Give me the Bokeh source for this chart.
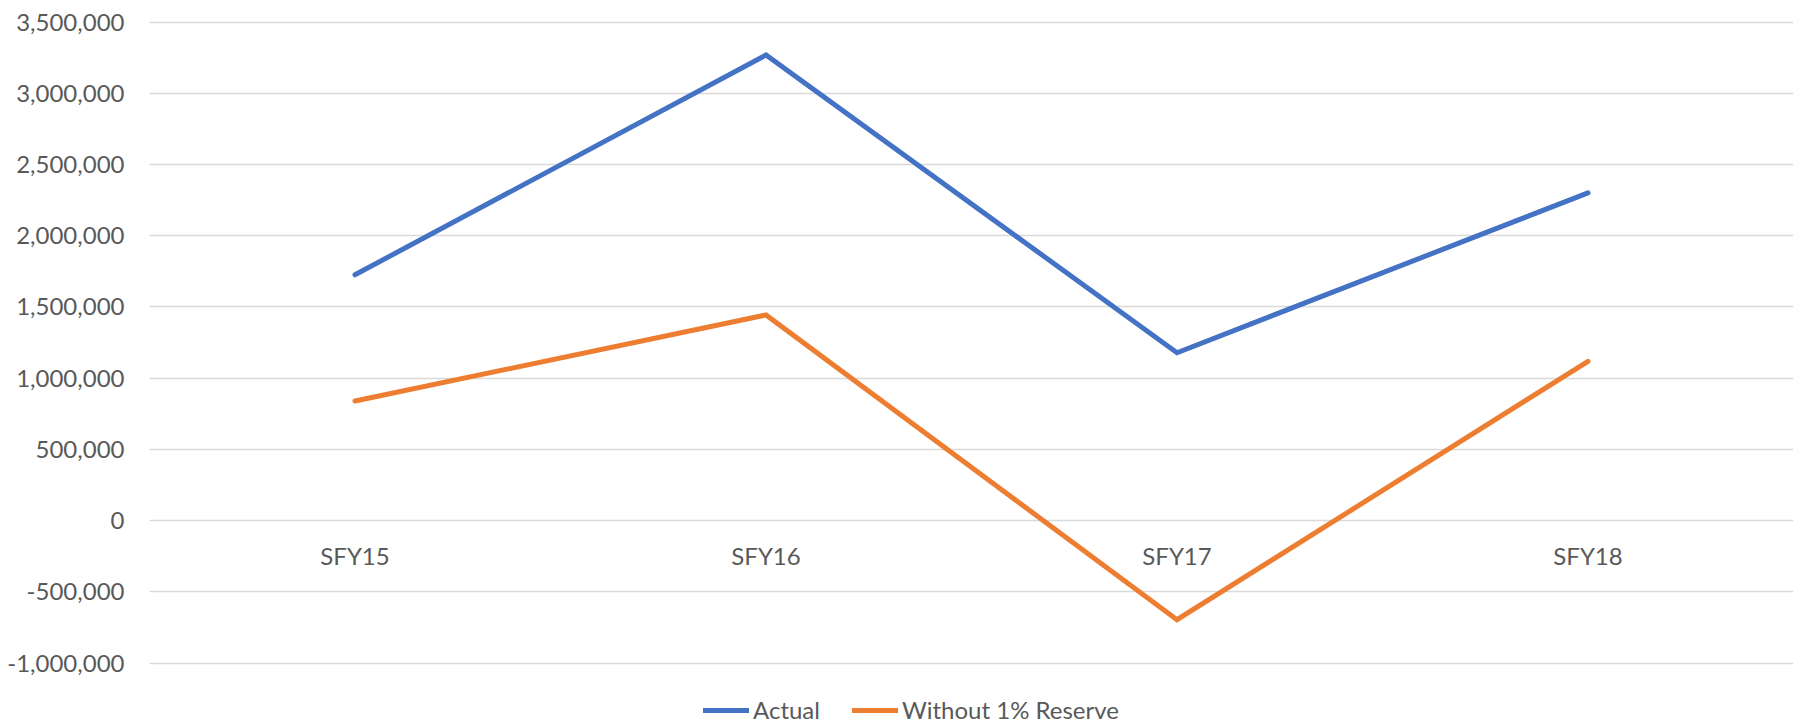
from bokeh.plotting import figure
from bokeh.models import (FactorRange, Range1d, FixedTicker, NumeralTickFormatter,
                          Legend, LegendItem, ColumnDataSource)
from bokeh.core.properties import value
from bokeh.embed import file_html
from bokeh.resources import INLINE

categories = ["SFY15", "SFY16", "SFY17", "SFY18"]
actual = [1726000, 3268000, 1179000, 2301000]
without_reserve = [840000, 1444000, -695000, 1119000]
series_names = ["Actual", "Without 1% Reserve"]
y_ticks = [-1000000, -500000, 0, 500000, 1000000, 1500000, 2000000, 2500000, 3000000, 3500000]

FONT = "Lato"
TXT = "#595959"
FS = "24px"

W, H = 1799, 724
TOP = 20
FRAME_H = H - TOP            # frame runs to the bottom so the legend fits inside
PAD_TOP_PX = 1.5             # keep top gridline visible
PAD_BOT_PX = 61.3            # room under the -1,000,000 line for the legend
span = y_ticks[-1] - y_ticks[0]
per_px = span / (FRAME_H - PAD_TOP_PX - PAD_BOT_PX)
y_start = y_ticks[0] - PAD_BOT_PX * per_px
y_end = y_ticks[-1] + PAD_TOP_PX * per_px

p = figure(width=W, height=H, output_backend="svg", toolbar_location=None,
           x_range=FactorRange(*categories, range_padding=0),
           y_range=Range1d(y_start, y_end), x_axis_location=None,
           min_border_left=149, min_border_right=6, min_border_top=TOP,
           min_border_bottom=0)
p.outline_line_color = None
p.background_fill_color = "white"

p.xgrid.grid_line_color = None

yax = p.yaxis[0]
yax.ticker = FixedTicker(ticks=y_ticks)
yax.formatter = NumeralTickFormatter(format="0,0")
yax.axis_line_color = None
yax.major_tick_line_color = None
yax.minor_tick_line_color = None
yax.major_tick_out = 0
yax.major_tick_in = 0
yax.major_label_standoff = 25
yax.major_label_text_font = FONT
yax.major_label_text_font_size = FS
yax.major_label_text_color = TXT

p.ygrid.ticker = FixedTicker(ticks=y_ticks)
p.ygrid.grid_line_color = "#d9d9d9"
p.ygrid.grid_line_width = 1.5

src = ColumnDataSource(dict(x=categories, actual=actual, without=without_reserve,
                            zero=[0] * len(categories)))

r1 = p.line("x", "actual", source=src, line_color="#4472C4", line_width=5,
            line_cap="round", line_join="miter")
r2 = p.line("x", "without", source=src, line_color="#ED7D31", line_width=5,
            line_cap="round", line_join="miter")

p.text("x", "zero", text="x", source=src, text_align="center", text_baseline="middle",
       y_offset=35, text_font=value(FONT), text_font_size=FS, text_color=TXT)

legend = Legend(items=[LegendItem(label=series_names[0], renderers=[r1]),
                       LegendItem(label=series_names[1], renderers=[r2])],
                location=(554, 0), orientation="horizontal",
                label_text_font=FONT, label_text_font_size=FS, label_text_color=TXT,
                label_text_baseline="middle",
                glyph_width=46, glyph_height=24, label_height=24, label_standoff=4,
                spacing=32, padding=0, margin=0, border_line_color=None,
                background_fill_alpha=0)
p.add_layout(legend, "center")

open("out.html", "w").write(file_html(p, INLINE))
